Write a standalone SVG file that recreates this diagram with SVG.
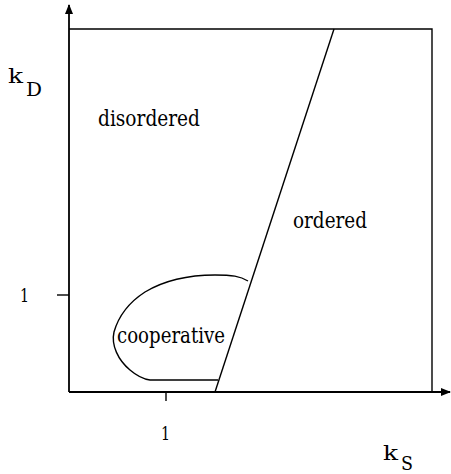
<svg xmlns="http://www.w3.org/2000/svg" width="451" height="474" viewBox="0 0 451 474">
<style>
.ln{fill:none;stroke:#000;stroke-width:1.4}
.ax{fill:none;stroke:#000;stroke-width:1.8}
text{font-family:"DejaVu Serif","Liberation Serif",serif;fill:#000}
</style>
<defs>
<marker id="ah" markerWidth="10" markerHeight="8" refX="9" refY="4" orient="auto" markerUnits="userSpaceOnUse">
<path d="M0,0 L10,4 L0,8 Z" fill="#000"/>
</marker>
</defs>
<rect width="451" height="474" fill="#fff"/>
<g id="axes">
<line class="ax" x1="69" y1="392" x2="69" y2="5" marker-end="url(#ah)"/>
<line class="ax" x1="69" y1="392" x2="450" y2="392" marker-end="url(#ah)"/>
<line class="ln" x1="57" y1="295" x2="69" y2="295"/>
<line class="ln" x1="166" y1="392" x2="166" y2="401"/>
</g>
<g id="frame">
<polyline class="ln" points="69,29 432,29 432,392"/>
</g>
<g id="boundary">
<line class="ln" x1="334" y1="29" x2="215" y2="392"/>
</g>
<g id="cooperative-region">
<path class="ln" d="M248,281 C240,276 232,275 215,275 C190,275 165,280 145,292 C128,303 118,318 114,332 C111,345 118,360 130,370 C137,376 142,379 150,380 L218,380"/>
</g>
<g id="labels">
<text x="8" y="83" font-size="21" textLength="15" lengthAdjust="spacingAndGlyphs">k</text>
<text x="26" y="96" font-size="19" textLength="16" lengthAdjust="spacingAndGlyphs">D</text>
<text x="383" y="460" font-size="21" textLength="15" lengthAdjust="spacingAndGlyphs">k</text>
<text x="401" y="470" font-size="18" textLength="12" lengthAdjust="spacingAndGlyphs">S</text>
<text x="20" y="302" font-size="18" textLength="9" lengthAdjust="spacingAndGlyphs">1</text>
<text x="161" y="440" font-size="18" textLength="9" lengthAdjust="spacingAndGlyphs">1</text>
<text x="98" y="126" font-size="22" textLength="102" lengthAdjust="spacingAndGlyphs">disordered</text>
<text x="293" y="228" font-size="22" textLength="74" lengthAdjust="spacingAndGlyphs">ordered</text>
<text x="117" y="343" font-size="22" textLength="108" lengthAdjust="spacingAndGlyphs">cooperative</text>
</g>
</svg>
